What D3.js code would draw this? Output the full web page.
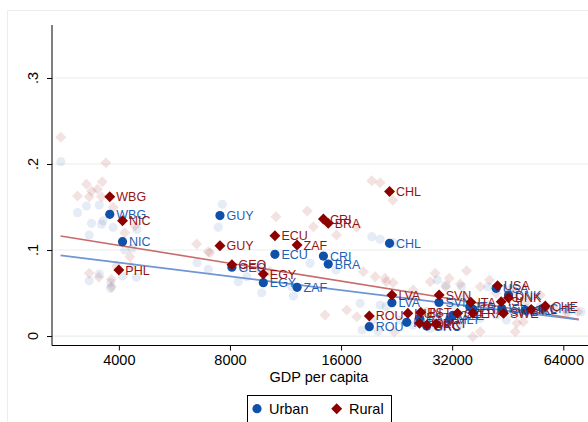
<!DOCTYPE html>
<html>
<head>
<meta charset="utf-8">
<script src="https://cdn.jsdelivr.net/npm/d3@7/dist/d3.min.js"></script>
<style>
  body { margin: 0; background: #fff; }
  svg { font-family: "Liberation Sans", Arial, sans-serif; }
</style>
</head>
<body>
<svg width="588" height="422"></svg>
<script>
// labelled countries, urban series
var urbanCodes = ["WBG","NIC","GUY","GEO","EGY","ECU","ZAF","CRI","BRA","CHL","ROU","LVA","SVN",
  "HUN","EST","GRC","MLT","CZE","ITA","FRA","ISL","SWE","USA","DNK","IRL","CHE"];
var urbanGdp = [3780,4093,7516,8098,9850,10590,12160,14330,14770,21650,19080,21970,29470,
  24100,26100,27300,31500,32100,35700,36400,43600,44000,42100,45480,50500,56300];
var urbanShare = [.1415,.1097,.140,.080,.062,.095,.0566,.093,.0837,.1078,.0109,.0388,.039,
  .016,.021,.0116,.019,.024,.034,.031,.032,.028,.0555,.0477,.030,.032];

// labelled countries, rural series
var ruralCodes = ["WBG","NIC","PHL","GUY","GEO","EGY","ECU","ZAF","CRI","BRA","CHL","ROU","LVA",
  "HUN","EST","POL","GRC","PRT","SVN","CZE","FRA","ITA","USA","DNK","ISL","SWE","IRL","CHE"];
var ruralGdp = [3780,4093,4000,7516,8098,9850,10590,12160,14330,14770,21650,19080,21970,
  24270,26300,26100,27320,28960,29500,33080,36400,35960,42470,45480,43450,44080,52400,57200];
var ruralShare = [.162,.134,.0767,.105,.083,.072,.1166,.1058,.136,.131,.168,.0233,.0477,
  .0264,.0276,.0148,.0128,.014,.0477,.0264,.0264,.0392,.0585,.0445,.0399,.0264,.031,.0349];

// other years, drawn faint
var bgUrban = [[2785,.2027],[3268,.1512],[3092,.1434],[3540,.1523],[3373,.131],[3625,.134],[3591,.130],
  [3860,.1264],[3324,.1174],[4480,.124],[4152,.100],[4345,.102],[6515,.0852],[3540,.0721],[3324,.0643],
  [3803,.062],[4465,.0683],[4093,.0698],[3803,.0555],[7625,.1531],[7436,.1264],[19380,.1155],[20410,.1124],
  [22140,.1085],[6986,.0776],[8425,.0631],[8880,.069],[9752,.0503],[11760,.0573],[11880,.0465],[13180,.0845],
  [15510,.0767],[18020,.038],[20410,.036],[19480,.0186],[18240,.007],[20150,.0058],[29160,.0651],[30750,.0593],
  [33900,.0573],[40000,.0573],[45700,.0535],[55440,.0341],[65500,.0302],[71500,.0283],[23130,.0186],
  [25100,.0128],[30310,.0108],[33640,.0128],[38120,.0206],[42100,.0244],[48900,.0264],[27320,.0283],
  [32100,.036],[35800,.0322],[40400,.036],[50800,.0322],[21200,.0341],[27900,.009],[44900,.0186]];

var bgRural = [[2785,.231],[3689,.2015],[3268,.1764],[3605,.1794],[3373,.1686],[3500,.1706],[3092,.1628],
  [3324,.162],[3591,.162],[3860,.1497],[4420,.128],[4152,.120],[6498,.107],[6986,.098],[3324,.0729],
  [3531,.0683],[3820,.0659],[3820,.0573],[4320,.0806],[3944,.0814],[4284,.0922],[19380,.1806],[20410,.1783],
  [22100,.158],[12960,.1453],[10660,.1387],[13460,.1271],[15550,.1174],[17650,.1264],[7060,.0969],
  [9546,.0787],[10270,.0748],[18390,.0748],[19790,.069],[21060,.0671],[14480,.0244],[16580,.0302],
  [17650,.0224],[24620,.0438],[22140,.062],[28780,.0729],[31400,.0671],[35000,.0759],[33640,.0605],
  [38120,.0573],[40400,.0651],[47440,.0515],[50800,.0399],[60000,.0322],[64800,.031],[70000,.0283],
  [27900,.0631],[36400,-.0008],[38120,.005],[47440,.005],[49900,.0166],[22300,.005],[21200,.0631],
  [30750,.0573],[42100,.0497],[25100,.0535],[34700,.0457],[55440,.0477],[65500,.0264],[28960,.0148],
  [47900,.0148]];

// fitted lines (ends of the gdp range)
var fitGdp = [2780, 70500];
var urbanFit = [.0938, .019];
var ruralFit = [.1163, .0194];

var xTicks = [4000, 8000, 16000, 32000, 64000];
var yTicks = [0, .1, .2, .3];
var yTickLabels = ["0", ".1", ".2", ".3"];

var blue = "#0f50a8", blueText = "#1d5fb5";
var red = "#8c0000", redText = "#941414";

var svg = d3.select("svg");

// graph region frame
svg.append("rect")
  .attr("x", 7.5).attr("y", 10.5)
  .attr("width", 620).attr("height", 440)
  .attr("fill", "none").attr("stroke", "#e9eef0");

var x = d3.scaleLog().domain([2636, 75600]).range([52, 590]);
var y = d3.scaleLinear().domain([-0.011, 0.3616]).range([345.5, 25]);

// grid
svg.append("g").selectAll("line")
  .data(yTicks)
  .enter().append("line")
    .attr("x1", 52).attr("x2", 590)
    .attr("y1", function(d) { return y(d); })
    .attr("y2", function(d) { return y(d); })
    .attr("stroke", "#e8eff2").attr("stroke-width", 1.2);

// y axis
var yAxis = svg.append("g")
  .attr("transform", "translate(52,0)")
  .call(d3.axisLeft(y).tickValues(yTicks).tickSize(5).tickFormat(""));
yAxis.select(".domain").attr("d", "M0," + y.range()[1] + "V" + y.range()[0]).attr("stroke", "#000");
yAxis.selectAll(".tick line").attr("stroke", "#000");

svg.append("g").selectAll("text")
  .data(yTicks)
  .enter().append("text")
    .attr("transform", function(d) { return "translate(33," + y(d) + ") rotate(-90)"; })
    .attr("text-anchor", "middle")
    .attr("dy", "0.35em")
    .attr("font-size", 14.5)
    .text(function(d, i) { return yTickLabels[i]; });

// x axis
var xAxis = svg.append("g")
  .attr("transform", "translate(0,345.5)")
  .call(d3.axisBottom(x).tickValues(xTicks).tickSize(5).tickFormat(d3.format("d")));
xAxis.select(".domain").attr("d", "M52,0H590").attr("stroke", "#000");
xAxis.selectAll(".tick line").attr("stroke", "#000");
xAxis.selectAll(".tick text")
  .attr("font-size", 14.5)
  .attr("font-family", "Liberation Sans, Arial, sans-serif")
  .attr("fill", "#000")
  .attr("y", 9)
  .attr("dy", "0.71em");

svg.append("text")
  .attr("x", 319).attr("y", 382)
  .attr("text-anchor", "middle")
  .attr("font-size", 14.5)
  .text("GDP per capita");

// square turned 45 degrees = Stata diamond
var diamond = d3.symbol().type(d3.symbolSquare).size(60);

// faint points
svg.append("g").selectAll("circle")
  .data(bgUrban)
  .enter().append("circle")
    .attr("cx", function(d) { return x(d[0]); })
    .attr("cy", function(d) { return y(d[1]); })
    .attr("r", 4.6)
    .attr("fill", "#1a52a8").attr("fill-opacity", 0.11);

svg.append("g").selectAll("path")
  .data(bgRural)
  .enter().append("path")
    .attr("d", diamond)
    .attr("transform", function(d) { return "translate(" + x(d[0]) + "," + y(d[1]) + ") rotate(45)"; })
    .attr("fill", "#a01010").attr("fill-opacity", 0.12);

// fit lines
var fitLine = d3.line()
  .x(function(d) { return x(d[0]); })
  .y(function(d) { return y(d[1]); });

svg.append("path")
  .datum(fitGdp.map(function(g, i) { return [g, ruralFit[i]]; }))
  .attr("d", fitLine)
  .attr("fill", "none").attr("stroke", "#c76b6b").attr("stroke-width", 1.6);

svg.append("path")
  .datum(fitGdp.map(function(g, i) { return [g, urbanFit[i]]; }))
  .attr("d", fitLine)
  .attr("fill", "none").attr("stroke", "#6f95d3").attr("stroke-width", 1.6);

// labelled points
var urban = urbanCodes.map(function(c, i) { return {code: c, gdp: urbanGdp[i], v: urbanShare[i]}; });
var rural = ruralCodes.map(function(c, i) { return {code: c, gdp: ruralGdp[i], v: ruralShare[i]}; });

var ug = svg.append("g").selectAll("g")
  .data(urban)
  .enter().append("g")
    .attr("transform", function(d) { return "translate(" + x(d.gdp) + "," + y(d.v) + ")"; });
ug.append("circle").attr("r", 4.6).attr("fill", blue);
ug.append("text")
  .attr("x", 6.5).attr("dy", "0.36em")
  .attr("font-size", 12.5)
  .attr("fill", blueText)
  .text(function(d) { return d.code; });

var rg = svg.append("g").selectAll("g")
  .data(rural)
  .enter().append("g")
    .attr("transform", function(d) { return "translate(" + x(d.gdp) + "," + y(d.v) + ")"; });
rg.append("path").attr("d", diamond).attr("transform", "rotate(45)").attr("fill", red);
rg.append("text")
  .attr("x", 6.5).attr("dy", "0.36em")
  .attr("font-size", 12.5)
  .attr("fill", redText)
  .text(function(d) { return d.code; });

// legend
var legend = svg.append("g");
legend.append("rect")
  .attr("x", 247.5).attr("y", 395.5)
  .attr("width", 144).attr("height", 28)
  .attr("fill", "#fff").attr("stroke", "#000");
legend.append("circle").attr("cx", 257).attr("cy", 408.7).attr("r", 4.6).attr("fill", blue);
legend.append("text").attr("x", 269).attr("y", 408.7).attr("dy", "0.35em")
  .attr("font-size", 14.5).text("Urban");
legend.append("path").attr("d", diamond)
  .attr("transform", "translate(336.7,408.7) rotate(45)").attr("fill", red);
legend.append("text").attr("x", 349).attr("y", 408.7).attr("dy", "0.35em")
  .attr("font-size", 14.5).text("Rural");
</script>
</body>
</html>
